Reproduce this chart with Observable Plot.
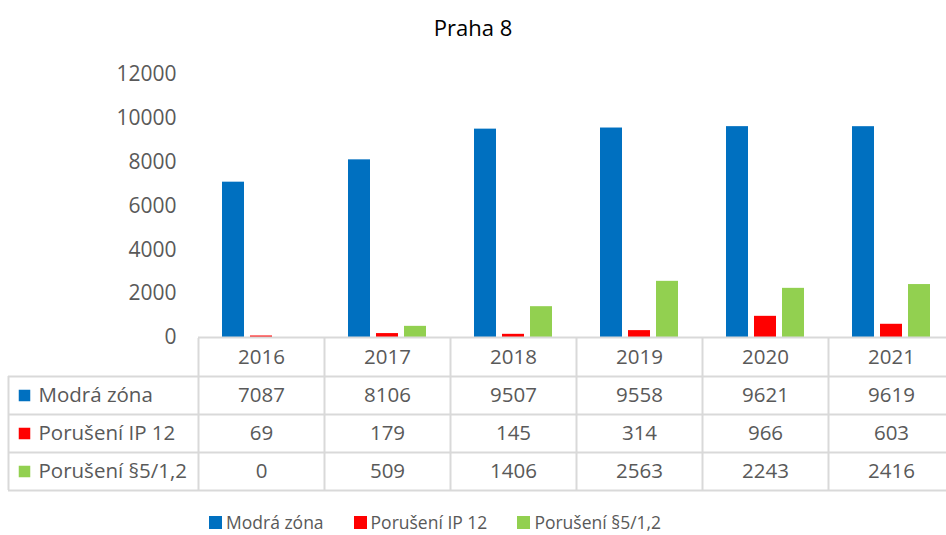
<!DOCTYPE html>
<html><head><meta charset="utf-8">
<script src="https://cdn.jsdelivr.net/npm/d3@7"></script>
<script src="https://cdn.jsdelivr.net/npm/@observablehq/plot@0.6"></script>
<style>
html,body{margin:0;padding:0;background:#fff;overflow:hidden;width:946px;height:535px;}
#root{position:relative;width:946px;height:535px;font-family:"Open Sans",sans-serif;overflow:hidden;}
#title{position:absolute;left:0;top:11px;width:946px;text-align:center;font-size:22px;line-height:32px;color:#000;}
#chart{position:absolute;left:0;top:50px;width:954px;}
#table{position:absolute;left:0;top:337px;width:954px;}
#chart svg,#table svg{max-width:none !important;}
#legend{position:absolute;left:209px;top:510px;}
#legend .lg-swatches{font-family:"Open Sans",sans-serif !important;font-size:17.5px !important;color:#595959 !important;margin:0 !important;min-height:0 !important;}
#legend .lg-swatch{margin-right:30px !important;}
#legend .lg-swatch > svg{margin-right:4px !important;}
</style></head>
<body>
<div id="root">
  <div id="title">Praha 8</div>
  <div id="chart"></div>
  <div id="table"></div>
  <div id="legend"></div>
</div>
<script>
const years = ["2016", "2017", "2018", "2019", "2020", "2021"];
const series = ["Modrá zóna", "Porušení IP 12", "Porušení §5/1,2"];
const modraZona = [7087, 8106, 9507, 9558, 9621, 9619];
const poruseniIP12 = [69, 179, 145, 314, 966, 603];
const poruseni51 = [0, 509, 1406, 2563, 2243, 2416];
const colors = ["#0070C0", "#FF0000", "#92D050"];
const yTicks = [0, 2000, 4000, 6000, 8000, 10000, 12000];

const values = [modraZona, poruseniIP12, poruseni51];
const barData = years.flatMap((yr, i) => series.map((s, j) => ({year: yr, series: s, value: values[j][i]})));
const cells = series.flatMap((s, r) => years.map((yr, c) => ({row: r, col: c, value: values[r][c]})));

const W = 954, left = 198;
const gridColor = "#d9d9d9";

const chart = Plot.plot({
  width: W, height: 288,
  marginLeft: left, marginRight: 0, marginTop: 24, marginBottom: 1,
  style: {fontFamily: "Open Sans", fontSize: "21px", color: "#595959", background: "transparent", overflow: "visible"},
  fx: {domain: years, padding: 0, axis: null},
  x: {domain: series, paddingInner: 0.214, paddingOuter: 0.857, axis: null},
  y: {domain: [0, 12000], ticks: yTicks, tickFormat: d => String(d), tickSize: 0, tickPadding: 22, label: null},
  color: {domain: series, range: colors},
  marks: [
    Plot.barY(barData, {fx: "year", x: "series", y: "value", fill: "series", inset: 0}),
    Plot.ruleY([0], {stroke: gridColor, strokeWidth: 2})
  ]
});
document.getElementById("chart").appendChild(chart);

const colW = (W - left) / years.length;
const xmin = -(left - 8) / colW;
const nRows = series.length + 1;
const table = Plot.plot({
  width: W, height: 160,
  marginLeft: 8, marginRight: 0, marginTop: 0, marginBottom: 0,
  style: {fontFamily: "Open Sans", fontSize: "20.5px", color: "#595959", background: "transparent", overflow: "visible"},
  x: {type: "linear", domain: [xmin, years.length], range: [8, W], axis: null},
  y: {type: "linear", domain: [0, nRows], range: [1, 153], axis: null},
  color: {domain: series, range: colors},
  marks: [
    Plot.ruleY(d3.range(1, nRows + 1), {x1: xmin, x2: years.length, stroke: gridColor, strokeWidth: 2}),
    Plot.ruleX(d3.range(0, years.length + 1), {y1: 0, y2: nRows, stroke: gridColor, strokeWidth: 2}),
    Plot.ruleX([xmin], {y1: 1, y2: nRows, stroke: gridColor, strokeWidth: 2}),
    Plot.text(years, {x: (d, i) => i + 0.5, y: 0.5, text: d => d}),
    Plot.text(cells, {x: d => d.col + 0.5, y: d => d.row + 1.5, text: d => String(d.value)}),
    Plot.dot(series, {x: xmin, y: (d, i) => i + 1.5, fill: d => d, symbol: "square", r: 6.5, dx: 16}),
    Plot.text(series, {x: xmin, y: (d, i) => i + 1.5, text: d => d, textAnchor: "start", dx: 30})
  ]
});
document.getElementById("table").appendChild(table);

const legend = Plot.legend({
  color: {domain: series, range: colors},
  legend: "swatches",
  swatchSize: 13,
  className: "lg",
  style: {fontFamily: "Open Sans", fontSize: "17.5px", color: "#595959"}
});
document.getElementById("legend").appendChild(legend);
</script>
</body></html>
